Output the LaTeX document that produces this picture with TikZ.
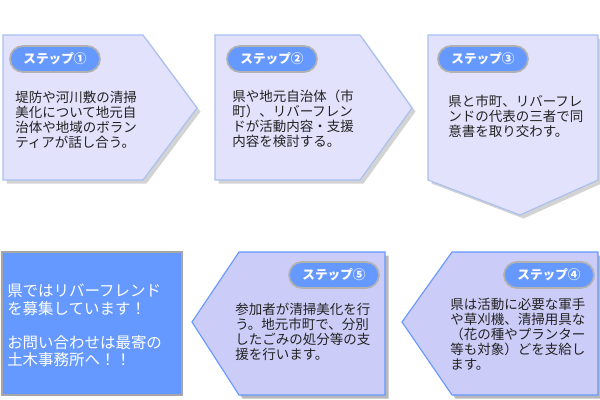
\documentclass[tikz,border=0pt]{standalone}
\usepackage{fontspec}
\setmainfont{Noto Sans CJK JP}
\usetikzlibrary{shapes.misc, shadows}

\definecolor{paleviolet}{HTML}{E2E2FC}
\definecolor{midviolet}{HTML}{CCCCF8}
\definecolor{paleedge}{HTML}{A8C0F0}
\definecolor{stepblue}{HTML}{6699FF}
\definecolor{textgray}{HTML}{222222}

\begin{document}
\begin{tikzpicture}[
    x=0.025cm, y=-0.025cm,
    every node/.style={font=\fontsize{9.6pt}{10.7pt}\selectfont, text=textgray},
    upper/.style={fill=paleviolet, draw=paleedge, line width=0.8pt,
        drop shadow={shadow xshift=2.5pt, shadow yshift=-2.5pt, opacity=0.35}},
    lower/.style={fill=midviolet, draw=stepblue, line width=0.8pt,
        drop shadow={shadow xshift=2.5pt, shadow yshift=-2.5pt, opacity=0.55}},
    pill/.style={rounded rectangle, fill=stepblue, draw=gray!60, line width=1.2pt,
        minimum width=2.25cm, minimum height=0.65cm, inner sep=0pt,
        text=white, font=\fontsize{9pt}{10pt}\selectfont\bfseries},
    body/.style={anchor=north west, inner sep=0pt, align=left}
]
\useasboundingbox (0,0) rectangle (600,400);

% ============ UPPER ROW ============
\draw[upper] (3,35) -- (143,35) -- (197,108) -- (143,180) -- (3,180) -- cycle;
\draw[upper] (215,35) -- (360,35) -- (412,108) -- (360,180) -- (215,180) -- cycle;
\draw[upper] (428,35) -- (598,35) -- (598,180) -- (520,215) -- (428,180) -- cycle;

\node[pill] (tag1) at (55,59) {ステップ①};
\node[body] (text1) at (15,91) {堤防や河川敷の清掃\\美化について地元自\\治体や地域のボラン\\ティアが話し合う。};

\node[pill] (tag2) at (272,59) {ステップ②};
\node[body] (text2) at (232,90) {県や地元自治体（市\\町）、リバーフレン\\ドが活動内容・支援\\内容を検討する。};

\node[pill] (tag3) at (483,59) {ステップ③};
\node[body] (text3) at (448,95) {県と市町、リバーフレ\\ンドの代表の三者で同\\意書を取り交わす。};

% ============ LOWER ROW ============
\draw[lower] (598,252) -- (452,252) -- (402,322) -- (452,395) -- (598,395) -- cycle;
\draw[lower] (385,252) -- (239,252) -- (192,322) -- (239,395) -- (385,395) -- cycle;

\node[pill] (tag4) at (549,275) {ステップ④};
\node[body] (text4) at (450,298) {県は活動に必要な軍手\\や草刈機、清掃用具な\\（花の種やプランター\\等も対象）どを支給し\\ます。};

\node[pill] (tag5) at (334,275) {ステップ⑤};
\node[body] (text5) at (235,303) {参加者が清掃美化を行\\う。地元市町で、分別\\したごみの処分等の支\\援を行います。};

% ============ RECRUITING ============
\draw[fill=stepblue, draw=gray!70, line width=0.8pt] (2,252) rectangle (182,395);
\node[body, text=white, font=\fontsize{11pt}{12.2pt}\selectfont] (recruit) at (7,284)
    {県ではリバーフレンド\\を募集しています！\\[12.2pt]お問い合わせは最寄の\\土木事務所へ！！};

\end{tikzpicture}
\end{document}
